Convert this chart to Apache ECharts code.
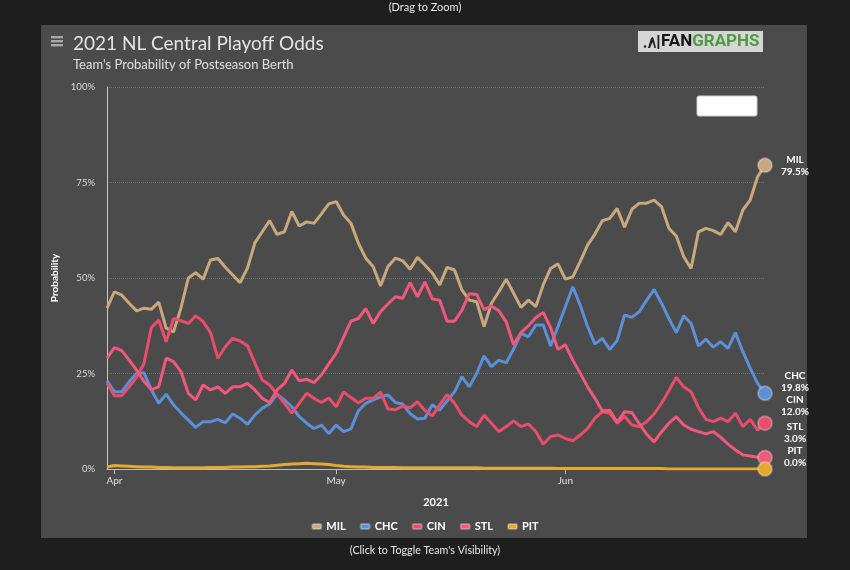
<!DOCTYPE html>
<html><head><meta charset="utf-8">
<script src="https://cdn.jsdelivr.net/npm/echarts@6/dist/echarts.min.js"></script>
<style>
html,body{margin:0;padding:0;background:#1e1e1e;}
#panel{position:absolute;left:41px;top:25px;width:766px;height:513px;background:#4b4b4b;}
#chart{position:absolute;left:0;top:0;width:850px;height:570px;}
</style></head><body>
<div id="panel"></div><div id="chart"></div>
<script>
// ---- categories: daily dates from 2021-03-31 to 2021-06-28 ----
const startYear = 2021, startMonthIndex = 2, startDay = 31, dayCount = 90;
const categories = [];
for (let i = 0; i < dayCount; i++) {
  categories.push(new Date(Date.UTC(startYear, startMonthIndex, startDay + i)).toISOString().slice(0, 10));
}
const monthTicks = { '2021-04-01': 'Apr', '2021-05-01': 'May', '2021-06-01': 'Jun' };
const yTicks = [0, 25, 50, 75, 100];

const teams = ['MIL', 'CHC', 'CIN', 'STL', 'PIT'];
const teamColors = ['#c8a97e', '#5b8fd8', '#ea4d6b', '#f2587c', '#e6a92f'];

const MIL = [42.1,46.4,45.5,43.4,41.4,42.1,41.8,43.7,36.9,35.9,42.1,50.0,51.4,49.7,54.7,55.1,52.8,50.8,48.8,52.6,
  59.2,62.1,65.0,61.4,62.1,67.4,63.6,64.7,64.3,66.8,69.4,70.0,66.5,64.3,59.1,55.2,53.0,47.9,53.0,55.2,
  54.5,52.3,55.4,53.4,51.3,48.2,52.8,52.1,46.9,44.2,43.8,37.3,43.4,46.4,49.7,46.0,42.3,44.2,42.5,48.2,
  52.5,53.7,49.7,50.3,54.3,58.6,61.5,65.0,65.6,68.2,63.3,68.0,69.6,69.6,70.4,68.7,63.0,61.0,55.6,52.5,
  62.1,63.0,62.4,61.4,64.5,62.1,67.8,70.4,76.5,79.5];
const CHC = [23.1,20.2,20.2,22.9,25.0,25.2,20.7,17.2,19.6,16.8,14.7,12.8,10.9,12.4,12.4,13.0,12.1,14.4,13.3,11.7,
  14.1,15.9,17.0,19.6,18.1,16.3,13.7,12.0,10.6,11.5,9.3,11.5,9.8,10.5,15.2,17.2,18.1,18.9,19.4,17.4,
  17.0,14.5,13.1,13.3,16.8,15.4,17.8,20.2,24.2,21.5,25.0,29.6,26.8,28.5,27.8,31.4,35.5,34.6,37.7,37.7,
  32.2,37.3,42.5,47.7,42.9,37.3,32.7,34.2,31.3,33.6,40.3,39.7,41.2,44.2,47.0,43.4,39.4,35.7,40.1,38.1,
  32.2,34.0,31.9,33.3,31.6,35.7,30.7,26.4,22.4,19.8];
const CIN = [22.5,19.2,19.2,21.5,24.0,27.6,37.0,39.0,33.3,39.4,38.8,38.1,40.1,38.6,35.7,29.0,32.0,34.2,33.5,32.3,
  27.8,23.3,22.0,19.6,17.2,14.6,17.2,19.8,18.5,17.4,18.6,16.3,20.2,18.7,17.3,18.5,18.5,20.1,15.7,15.5,
  16.5,16.0,17.6,15.3,13.9,16.8,19.5,17.2,14.1,12.4,11.1,14.1,12.0,9.8,11.1,12.6,11.1,11.8,9.8,6.5,
  8.5,8.9,8.0,7.4,8.9,10.6,13.3,15.0,14.6,12.0,13.8,11.5,11.1,12.4,14.4,17.2,20.5,24.0,21.5,20.2,
  16.1,13.0,12.4,13.3,12.4,14.6,11.1,13.0,10.2,12.0];
const STL = [29.0,31.8,31.0,28.5,25.9,22.9,20.8,21.5,29.0,28.1,25.5,19.8,18.1,22.0,20.7,21.5,19.8,21.5,21.5,22.4,
  20.7,18.5,17.4,20.7,22.4,25.9,23.1,23.5,22.6,24.6,27.5,30.3,34.5,38.7,39.4,42.0,38.1,41.2,43.2,45.1,
  44.7,48.8,45.1,49.0,44.5,44.2,38.7,38.7,41.5,45.9,45.7,41.7,42.7,41.4,38.5,32.5,35.7,37.5,39.6,41.0,
  37.0,31.3,32.5,28.5,25.1,21.5,18.5,15.2,15.4,12.2,15.0,14.8,11.8,9.1,7.1,9.7,12.0,13.7,11.5,10.4,
  9.8,9.2,9.8,8.3,6.5,5.0,3.7,3.4,3.1,3.0];
const PIT = [0.5,0.9,0.8,0.7,0.6,0.5,0.5,0.4,0.4,0.3,0.3,0.3,0.3,0.3,0.4,0.4,0.4,0.5,0.5,0.6,
  0.6,0.7,0.8,1.0,1.2,1.3,1.4,1.5,1.4,1.3,1.2,0.9,0.7,0.6,0.5,0.5,0.4,0.4,0.4,0.4,
  0.3,0.3,0.3,0.3,0.3,0.3,0.3,0.3,0.3,0.3,0.3,0.2,0.2,0.2,0.2,0.2,0.2,0.2,0.2,0.2,
  0.2,0.1,0.1,0.1,0.1,0.1,0.1,0.1,0.1,0.1,0.1,0.1,0.1,0.1,0.1,0.1,0.0,0.0,0.0,0.0,
  0.0,0.0,0.0,0.0,0.0,0.0,0.0,0.0,0.0,0.0];
const teamValues = [MIL, CHC, CIN, STL, PIT];
const endLabelOffsets = [0, -12, -17, -25, -12];

const FONT = 'Lato, "Noto Sans", sans-serif';
const chart = echarts.init(document.getElementById('chart'), null, { renderer: 'canvas' });
const isMonth = (idx, val) => Object.prototype.hasOwnProperty.call(monthTicks, val);
const last = dayCount - 1;

const series = teams.map((t, k) => ({
  name: t,
  type: 'line',
  data: teamValues[k],
  smooth: false,
  showSymbol: true,
  showAllSymbol: true,
  symbol: (v, p) => p.dataIndex === last ? 'circle' : 'none',
  symbolSize: (v, p) => p.dataIndex === last ? 14 : 0,
  lineStyle: { width: 3, color: teamColors[k] },
  itemStyle: { color: teamColors[k], borderColor: 'rgba(255,255,255,0.28)', borderWidth: 2 },
  emphasis: { disabled: true },
  endLabel: {
    show: true,
    formatter: p => p.seriesName + '\n' + Number(p.value).toFixed(1) + '%',
    color: '#ffffff', fontWeight: 'bold', fontSize: 10, lineHeight: 12, fontFamily: FONT,
    align: 'center', distance: 30, offset: [0, endLabelOffsets[k]]
  },
  z: 2 + k
}));

chart.setOption({
  animation: false,
  backgroundColor: 'transparent',
  color: teamColors,
  title: {
    text: '2021 NL Central Playoff Odds',
    subtext: "Team's Probability of Postseason Berth",
    left: 68, top: 29, itemGap: 5,
    textStyle: { color: '#e4e4e4', fontSize: 19, fontWeight: 'normal', fontFamily: FONT },
    subtextStyle: { color: '#e0e0e0', fontSize: 13, fontFamily: FONT }
  },
  grid: { left: 107, right: 85, top: 87, bottom: 101, containLabel: false },
  xAxis: {
    type: 'category', data: categories, boundaryGap: false,
    name: '2021', nameLocation: 'middle', nameGap: 28,
    nameTextStyle: { color: '#ffffff', fontWeight: 'bold', fontSize: 11, fontFamily: FONT },
    axisLine: { show: true, lineStyle: { color: '#bdbdbd', width: 1 } },
    axisTick: { show: true, interval: isMonth, length: 5, lineStyle: { color: '#bdbdbd' } },
    axisLabel: { interval: isMonth, formatter: v => monthTicks[v] || '', color: '#e0e0e0', fontSize: 10, margin: 7, fontFamily: FONT },
    splitLine: { show: false }
  },
  yAxis: {
    type: 'value', min: yTicks[0], max: yTicks[yTicks.length - 1], interval: 25,
    name: 'Probability', nameLocation: 'middle', nameGap: 44, nameRotate: 90,
    nameTextStyle: { color: '#ffffff', fontWeight: 'bold', fontSize: 10, fontFamily: FONT },
    axisLine: { show: true, lineStyle: { color: '#c8c8c8', width: 1 } },
    axisTick: { show: false },
    axisLabel: { formatter: '{value}%', color: '#dcdcdc', fontSize: 9.5, margin: 12, fontFamily: FONT },
    splitLine: { show: true, lineStyle: { color: '#707070', type: 'dotted', width: 1 } }
  },
  legend: {
    data: teams, top: 516, left: 'center',
    icon: 'roundRect', itemWidth: 9, itemHeight: 5, itemGap: 14,
    textStyle: { color: '#ffffff', fontWeight: 'bold', fontSize: 11, fontFamily: FONT }
  },
  graphic: [
    { type: 'text', left: 'center', top: 2, style: { text: '(Drag to Zoom)', fill: '#e8e8e8', font: '11px ' + FONT } },
    { type: 'text', left: 'center', top: 545, style: { text: "(Click to Toggle Team's Visibility)", fill: '#e8e8e8', font: '10.7px ' + FONT } },
    { type: 'rect', shape: { x: 51, y: 36, width: 12, height: 2.4 }, style: { fill: '#a8a8a8' } },
    { type: 'rect', shape: { x: 51, y: 40, width: 12, height: 2.4 }, style: { fill: '#a8a8a8' } },
    { type: 'rect', shape: { x: 51, y: 44, width: 12, height: 2.4 }, style: { fill: '#a8a8a8' } },
    { type: 'rect', shape: { x: 638, y: 31, width: 125, height: 21 }, style: { fill: '#d5d5d5' } },
    { type: 'circle', shape: { cx: 645, cy: 46.5, r: 1.3 }, style: { fill: '#222' } },
    { type: 'polygon', shape: { points: [[648,48],[651,38],[653,37],[654,40],[656,48],[654.5,48],[652.5,42],[650,48]] }, style: { fill: '#222' } },
    { type: 'rect', shape: { x: 657.5, y: 35, width: 1.8, height: 14 }, style: { fill: '#222' } },
    { type: 'text', x: 661, y: 42, style: {
        text: '{a|FAN}{b|GRAPHS}', verticalAlign: 'middle',
        rich: { a: { fill: '#151515', font: 'bold 17px Roboto, sans-serif' }, b: { fill: '#4f9b41', font: 'bold 17px Roboto, sans-serif' } } } },
    { type: 'rect', shape: { x: 697, y: 96, width: 60, height: 20, r: 2 }, style: { fill: '#ffffff', stroke: '#cccccc', lineWidth: 1 } }
  ],
  series: series
});
</script>
</body></html>
